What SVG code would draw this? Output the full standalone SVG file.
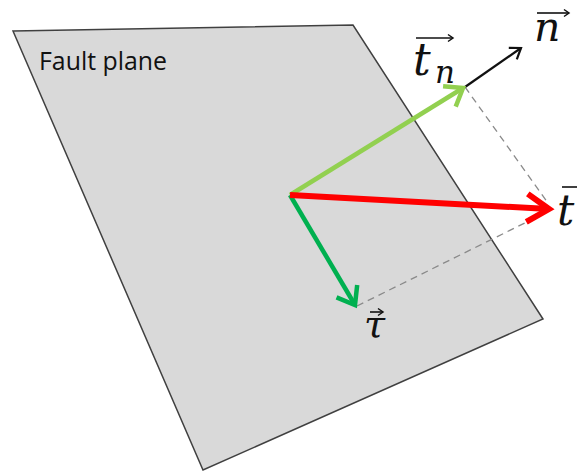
<svg xmlns="http://www.w3.org/2000/svg" width="577" height="473" viewBox="0 0 577 473">
<style>
.plane{fill:#d9d9d9;stroke:#404040;stroke-width:1.5}
.lbl{font-family:"DejaVu Serif","Liberation Serif",serif;font-style:italic;fill:#111}
.dash{stroke:#8a8a8a;stroke-width:1.3;stroke-dasharray:7 5;fill:none}
.ov{stroke:#111;stroke-width:1.6;fill:none}
</style>
<defs>
<marker id="hg1" markerUnits="userSpaceOnUse" markerWidth="30" markerHeight="30" refX="0" refY="0" viewBox="-20 -15 30 30" orient="auto" overflow="visible"><path d="M-16,-12 L0,0 L-16,12" fill="none" stroke="#92D050" stroke-width="4.5"/></marker>
<marker id="hg2" markerUnits="userSpaceOnUse" markerWidth="30" markerHeight="30" refX="0" refY="0" viewBox="-20 -15 30 30" orient="auto" overflow="visible"><path d="M-16,-12 L0,0 L-16,12" fill="none" stroke="#00B050" stroke-width="4.5"/></marker>
<marker id="hr" markerUnits="userSpaceOnUse" markerWidth="40" markerHeight="40" refX="0" refY="0" viewBox="-25 -20 40 40" orient="auto" overflow="visible"><path d="M-22,-14 L0,0 L-22,14" fill="none" stroke="#ff0000" stroke-width="6"/></marker>
<marker id="hk" markerUnits="userSpaceOnUse" markerWidth="20" markerHeight="20" refX="0" refY="0" viewBox="-12 -10 20 20" orient="auto" overflow="visible"><path d="M-10,-7 L0,0 L-10,7" fill="none" stroke="#111" stroke-width="2.2"/></marker>
<marker id="ha" markerUnits="userSpaceOnUse" markerWidth="10" markerHeight="10" refX="0" refY="0" viewBox="-6 -5 10 10" orient="auto" overflow="visible"><path d="M-5,-3.5 L0,0 L-5,3.5" fill="none" stroke="#111" stroke-width="1.5"/></marker>
</defs>
<g id="fault-plane">
<polygon class="plane" points="13,31 353,25 543,319 203,470"/>
<text x="39" y="70" font-family="'Open Sans','Liberation Sans',sans-serif" font-size="25" textLength="128" lengthAdjust="spacingAndGlyphs" fill="#111">Fault plane</text>
</g>
<g id="connectors">
<line class="dash" x1="465" y1="87" x2="548" y2="203"/>
<line class="dash" x1="357" y1="306" x2="545" y2="213"/>
<line x1="465" y1="87" x2="521" y2="48" stroke="#111" stroke-width="2.2" marker-end="url(#hk)"/>
<line x1="290" y1="195" x2="463" y2="88" stroke="#92D050" stroke-width="4.5" marker-end="url(#hg1)"/>
<line x1="290" y1="195" x2="355" y2="305" stroke="#00B050" stroke-width="4.5" marker-end="url(#hg2)"/>
<line x1="290" y1="195" x2="549" y2="209" stroke="#ff0000" stroke-width="6" marker-end="url(#hr)"/>
</g>
<g id="label-tn">
<text class="lbl" x="413" y="75" font-size="44">t</text>
<text class="lbl" x="435" y="83" font-size="31">n</text>
<line class="ov" x1="416" y1="38" x2="453" y2="38" marker-end="url(#ha)"/>
</g>
<g id="label-n">
<text class="lbl" x="534" y="41" font-size="41">n</text>
<line class="ov" x1="537" y1="13" x2="569" y2="13" marker-end="url(#ha)"/>
</g>
<g id="label-t">
<text class="lbl" x="557" y="225" font-size="43">t</text>
<line class="ov" x1="562" y1="187" x2="577" y2="187"/>
</g>
<g id="label-tau">
<text class="lbl" x="364" y="337" font-size="38">τ</text>
<line class="ov" x1="370" y1="312" x2="383" y2="312" marker-end="url(#ha)"/>
</g>
</svg>
